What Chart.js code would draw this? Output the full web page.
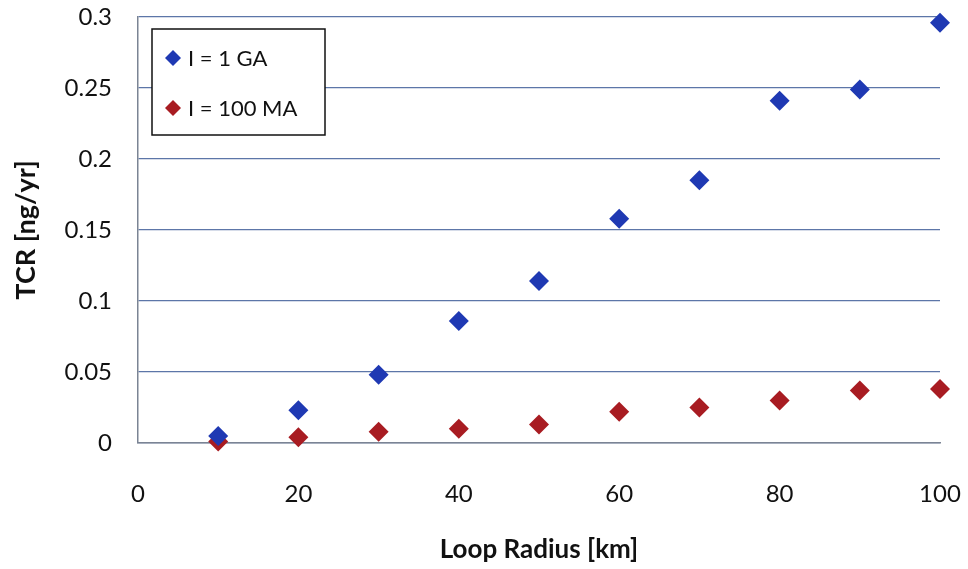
<!DOCTYPE html>
<html>
<head>
<meta charset="utf-8">
<script src="https://cdn.jsdelivr.net/npm/chart.js@4.4.1/dist/chart.umd.min.js"></script>
<style>
  html, body { margin: 0; padding: 0; background: #fff; }
  #wrap { width: 968px; height: 569px; }
</style>
</head>
<body>
<div id="wrap"><canvas id="myChart" width="968" height="569"></canvas></div>
<script>
const radius = [10, 20, 30, 40, 50, 60, 70, 80, 90, 100];
const tcr1GA = [0.005, 0.023, 0.048, 0.086, 0.114, 0.158, 0.185, 0.241, 0.249, 0.296];
const tcr100MA = [0.001, 0.004, 0.008, 0.010, 0.013, 0.022, 0.025, 0.030, 0.037, 0.038];
const yTickLabels = ['0', '0.05', '0.1', '0.15', '0.2', '0.25', '0.3'];
const seriesNames = ['I = 1 GA', 'I = 100 MA'];

const toPoints = (ys) => radius.map((x, i) => ({ x: x, y: ys[i] }));

// legend box inside the plot, drawn by hand
const boxLegend = {
  id: 'boxLegend',
  afterDraw(chart) {
    const ctx = chart.ctx;
    const x0 = 152, y0 = 29, w = 173, h = 106;
    ctx.save();
    ctx.fillStyle = '#fff';
    ctx.fillRect(x0, y0, w, h);
    ctx.strokeStyle = '#111';
    ctx.lineWidth = 1.5;
    ctx.strokeRect(x0, y0, w, h);
    ctx.font = '22px Lato';
    ctx.textBaseline = 'middle';
    chart.data.datasets.forEach((ds, i) => {
      const cy = y0 + 29 + i * 50;
      const cx = x0 + 21;
      ctx.fillStyle = ds.backgroundColor;
      ctx.beginPath();
      ctx.moveTo(cx, cy - 8);
      ctx.lineTo(cx + 8, cy);
      ctx.lineTo(cx, cy + 8);
      ctx.lineTo(cx - 8, cy);
      ctx.closePath();
      ctx.fill();
      ctx.fillStyle = '#111';
      ctx.fillText(ds.label, cx + 15, cy + 1);
    });
    ctx.restore();
  }
};

const ctx = document.getElementById('myChart').getContext('2d');
const tcrChart = new Chart(ctx, {
  type: 'scatter',
  data: {
    datasets: [{
      label: seriesNames[0],
      data: toPoints(tcr1GA),
      backgroundColor: '#1f39b3',
      borderColor: '#1f39b3',
      pointStyle: 'rectRot',
      pointRadius: 10,
      borderWidth: 0,
      clip: false
    }, {
      label: seriesNames[1],
      data: toPoints(tcr100MA),
      backgroundColor: '#a81c22',
      borderColor: '#a81c22',
      pointStyle: 'rectRot',
      pointRadius: 10,
      borderWidth: 0,
      clip: false
    }]
  },
  options: {
    responsive: false,
    animation: false,
    layout: { padding: 0 },
    plugins: { legend: { display: false }, tooltip: { enabled: false } },
    scales: {
      x: {
        type: 'linear',
        min: 0, max: 100,
        afterFit(scale) {
          scale.height = 126;
          scale.paddingLeft = 0;
          scale.paddingRight = 28;
        },
        grid: { display: false },
        border: { display: true, color: '#7b8494', width: 1.5 },
        ticks: { stepSize: 20, padding: 29, color: '#111', font: { family: 'Lato', size: 24 } },
        title: {
          display: true, text: 'Loop Radius [km]', color: '#111',
          font: { family: 'Lato', size: 26, weight: 'bold' },
          padding: { top: 0, bottom: 4 }
        }
      },
      y: {
        min: 0, max: 0.3,
        afterFit(scale) {
          scale.width = 138;
          scale.paddingTop = 17;
          scale.paddingBottom = 0;
        },
        afterBuildTicks(scale) {
          scale.ticks = yTickLabels.map(v => ({ value: parseFloat(v) }));
        },
        grid: { color: '#5d76a8', lineWidth: 1.2, drawTicks: false },
        border: { display: true, color: '#7b8494', width: 1.5 },
        ticks: {
          padding: 26, color: '#111', font: { family: 'Lato', size: 24 },
          callback: (v, i) => yTickLabels[i]
        },
        title: {
          display: true, text: 'TCR [ng/yr]', color: '#111',
          font: { family: 'Lato', size: 27, weight: 'bold' },
          padding: { top: 10, bottom: 0 }
        }
      }
    }
  },
  plugins: [boxLegend]
});
</script>
</body>
</html>
